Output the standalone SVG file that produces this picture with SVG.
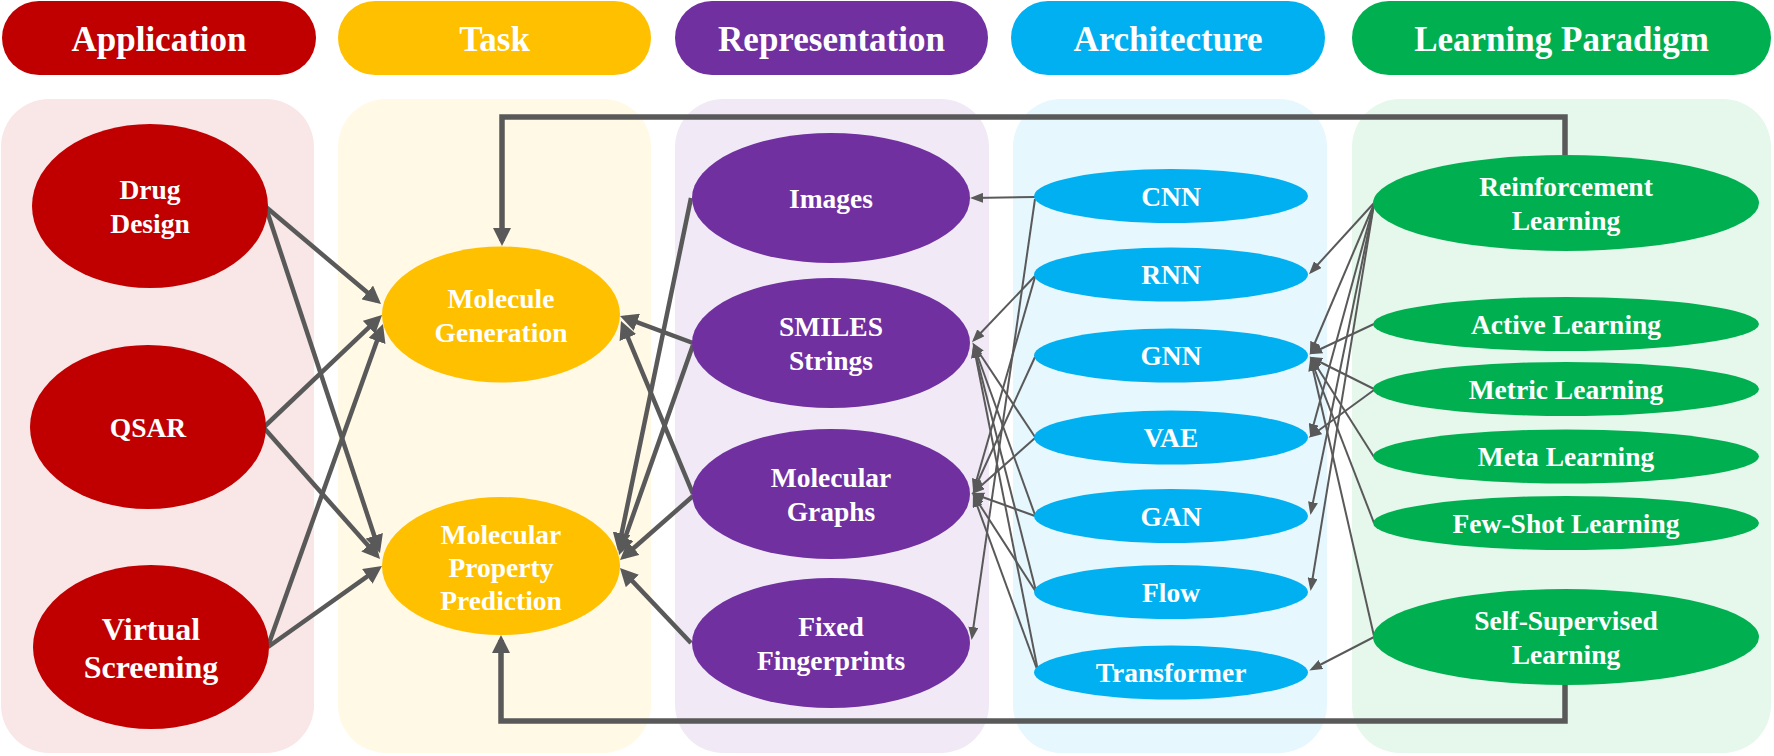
<svg xmlns="http://www.w3.org/2000/svg" width="1774" height="756" viewBox="0 0 1774 756">
<style>
.hd{font-family:"Liberation Serif","Times New Roman",serif;font-weight:bold;font-size:35px;fill:#fff;text-anchor:middle}
.tx{font-family:"Liberation Serif","Times New Roman",serif;font-weight:bold;font-size:27.5px;fill:#fff;text-anchor:middle}
.big{font-size:32px}
.thick{fill:none;stroke:#595959;stroke-width:4.5;marker-end:url(#ah)}
.loop{fill:none;stroke:#595959;stroke-width:5.5;marker-end:url(#ah)}
.thin{fill:none;stroke:#595959;stroke-width:2;marker-end:url(#at)}
.app{fill:#C00000}.task{fill:#FFC000}.rep{fill:#7030A0}.arch{fill:#00B0F0}.lrn{fill:#00B050}
</style>
<defs>
<marker id="ah" viewBox="0 0 18 18" markerWidth="18" markerHeight="18" refX="13" refY="9" orient="auto" markerUnits="userSpaceOnUse"><path d="M0,0 L18,9 L0,18 z" fill="#595959"/></marker>
<marker id="at" viewBox="0 0 13 10" markerWidth="13" markerHeight="10" refX="10" refY="5" orient="auto" markerUnits="userSpaceOnUse"><path d="M0,0 L13,5 L0,10 z" fill="#595959"/></marker>
</defs>
<rect width="1774" height="756" fill="#fff"/>
<g id="panels">
<rect x="1" y="99" width="313" height="654" rx="48" fill="#F9E6E6"/>
<rect x="338" y="99" width="313" height="654" rx="48" fill="#FFF9E6"/>
<rect x="675" y="99" width="314" height="654" rx="48" fill="#F1EAF6"/>
<rect x="1013" y="99" width="314" height="654" rx="48" fill="#E6F7FE"/>
<rect x="1352" y="99" width="419" height="654" rx="48" fill="#E6F7EC"/>
</g>
<g id="headers">
<rect class="app" x="2" y="1" width="314" height="74" rx="37"/><text class="hd" x="159" y="51">Application</text>
<rect class="task" x="338" y="1" width="313" height="74" rx="37"/><text class="hd" x="494.5" y="51">Task</text>
<rect class="rep" x="675" y="1" width="313" height="74" rx="37"/><text class="hd" x="831.5" y="51">Representation</text>
<rect class="arch" x="1011" y="1" width="314" height="74" rx="37"/><text class="hd" x="1168" y="51">Architecture</text>
<rect class="lrn" x="1352" y="1" width="419" height="74" rx="37"/><text class="hd" x="1561.5" y="51">Learning Paradigm</text>
</g>
<g id="connectors">
<path class="thick" d="M266,207 L377.2,300.8"/>
<path class="thick" d="M266,208 L378.4,548.2"/>
<path class="thick" d="M264,427 L378.4,318.4"/>
<path class="thick" d="M264,428 L376.7,555.3"/>
<path class="thick" d="M268,646 L381.3,328.7"/>
<path class="thick" d="M268,647 L377.9,568.9"/>
<path class="thick" d="M693,343 L624.7,317.7"/>
<path class="thick" d="M693,494 L622.9,325.6"/>
<path class="thick" d="M691,198 L619,546.1"/>
<path class="thick" d="M693,345 L620.7,550.3"/>
<path class="thick" d="M693,496 L623.8,556.7"/>
<path class="thick" d="M691,643 L623.4,571.6"/>
<path class="loop" d="M1565,160 V117 H502 V241"/>
<path class="loop" d="M1565,680 V721 H501 V640"/>
<path class="thin" d="M1035,197 L973,198"/>
<path class="thin" d="M1035,199 L972,637"/>
<path class="thin" d="M1035,276 L974,340"/>
<path class="thin" d="M1035,277 L974,489"/>
<path class="thin" d="M1035,357 L974,490"/>
<path class="thin" d="M1035,437 L974,345"/>
<path class="thin" d="M1035,438 L974,492"/>
<path class="thin" d="M1035,515 L974,346"/>
<path class="thin" d="M1035,516 L974,494"/>
<path class="thin" d="M1036,591 L974,347"/>
<path class="thin" d="M1036,592 L974,496"/>
<path class="thin" d="M1038,671 L974,348"/>
<path class="thin" d="M1038,672 L974,497"/>
<path class="thin" d="M1374,203 L1311,272"/>
<path class="thin" d="M1374,204 L1311,352"/>
<path class="thin" d="M1374,204 L1311,434"/>
<path class="thin" d="M1374,204 L1311,512"/>
<path class="thin" d="M1374,204 L1311,588"/>
<path class="thin" d="M1374,324 L1312,353"/>
<path class="thin" d="M1374,389 L1312,358"/>
<path class="thin" d="M1374,390 L1311,436"/>
<path class="thin" d="M1374,457 L1312,359"/>
<path class="thin" d="M1374,523 L1311,360"/>
<path class="thin" d="M1374,636 L1311,361"/>
<path class="thin" d="M1374,637 L1312,669"/>
</g>
<g id="drug-design"><ellipse class="app" cx="150" cy="206" rx="118" ry="82"/><text class="tx" x="150" y="199">Drug</text><text class="tx" x="150" y="233">Design</text></g>
<g id="qsar"><ellipse class="app" cx="148" cy="427" rx="118" ry="82"/><text class="tx" x="148" y="436.5">QSAR</text></g>
<g id="virtual-screening"><ellipse class="app" cx="151" cy="647" rx="118" ry="82"/><text class="tx big" x="151" y="640">Virtual</text><text class="tx big" x="151" y="678">Screening</text></g>
<g id="molecule-generation"><ellipse class="task" cx="501" cy="314.5" rx="119" ry="68"/><text class="tx" x="501" y="307.5">Molecule</text><text class="tx" x="501" y="341.5">Generation</text></g>
<g id="molecular-property-prediction"><ellipse class="task" cx="501" cy="566" rx="119" ry="69"/><text class="tx" x="501" y="544">Molecular</text><text class="tx" x="501" y="577">Property</text><text class="tx" x="501" y="610">Prediction</text></g>
<g id="images"><ellipse class="rep" cx="831" cy="198" rx="139" ry="65"/><text class="tx" x="831" y="207.5">Images</text></g>
<g id="smiles-strings"><ellipse class="rep" cx="831" cy="343" rx="139" ry="65"/><text class="tx" x="831" y="336">SMILES</text><text class="tx" x="831" y="370">Strings</text></g>
<g id="molecular-graphs"><ellipse class="rep" cx="831" cy="494" rx="139" ry="65"/><text class="tx" x="831" y="487">Molecular</text><text class="tx" x="831" y="521">Graphs</text></g>
<g id="fixed-fingerprints"><ellipse class="rep" cx="831" cy="643" rx="139" ry="65"/><text class="tx" x="831" y="636">Fixed</text><text class="tx" x="831" y="670">Fingerprints</text></g>
<g id="cnn"><ellipse class="arch" cx="1171" cy="196" rx="137" ry="27"/><text class="tx" x="1171" y="205.5">CNN</text></g>
<g id="rnn"><ellipse class="arch" cx="1171" cy="274.5" rx="137" ry="27"/><text class="tx" x="1171" y="284">RNN</text></g>
<g id="gnn"><ellipse class="arch" cx="1171" cy="355.5" rx="137" ry="27"/><text class="tx" x="1171" y="365">GNN</text></g>
<g id="vae"><ellipse class="arch" cx="1171" cy="437.5" rx="137" ry="27"/><text class="tx" x="1171" y="447">VAE</text></g>
<g id="gan"><ellipse class="arch" cx="1171" cy="516" rx="137" ry="27"/><text class="tx" x="1171" y="525.5">GAN</text></g>
<g id="flow"><ellipse class="arch" cx="1171" cy="592" rx="137" ry="27"/><text class="tx" x="1171" y="601.5">Flow</text></g>
<g id="transformer"><ellipse class="arch" cx="1171" cy="672.5" rx="137" ry="27"/><text class="tx" x="1171" y="682">Transformer</text></g>
<g id="reinforcement-learning"><ellipse class="lrn" cx="1566" cy="203" rx="193" ry="48"/><text class="tx" x="1566" y="196">Reinforcement</text><text class="tx" x="1566" y="230">Learning</text></g>
<g id="active-learning"><ellipse class="lrn" cx="1566" cy="324" rx="193" ry="27"/><text class="tx" x="1566" y="333.5">Active Learning</text></g>
<g id="metric-learning"><ellipse class="lrn" cx="1566" cy="389" rx="193" ry="27"/><text class="tx" x="1566" y="398.5">Metric Learning</text></g>
<g id="meta-learning"><ellipse class="lrn" cx="1566" cy="456.5" rx="193" ry="27"/><text class="tx" x="1566" y="466">Meta Learning</text></g>
<g id="few-shot-learning"><ellipse class="lrn" cx="1566" cy="523" rx="193" ry="27"/><text class="tx" x="1566" y="532.5">Few-Shot Learning</text></g>
<g id="self-supervised-learning"><ellipse class="lrn" cx="1566" cy="637" rx="193" ry="48"/><text class="tx" x="1566" y="630">Self-Supervised</text><text class="tx" x="1566" y="664">Learning</text></g>
</svg>
